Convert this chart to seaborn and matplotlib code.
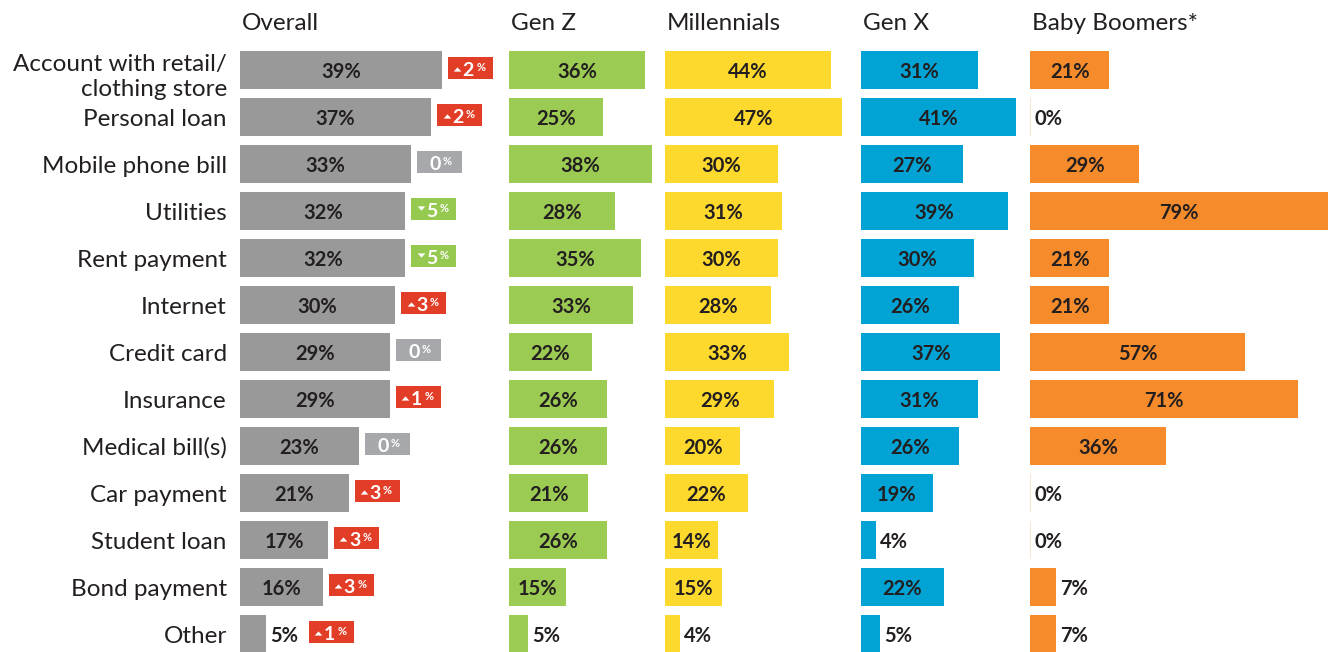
import matplotlib
matplotlib.use('Agg')
import matplotlib.pyplot as plt
from matplotlib.patches import Rectangle
import seaborn as sns
import pandas as pd

# ===========================================
# Data
# ===========================================
categories = ["Account with retail/\nclothing store", "Personal loan", "Mobile phone bill",
              "Utilities", "Rent payment", "Internet", "Credit card", "Insurance",
              "Medical bill(s)", "Car payment", "Student loan", "Bond payment", "Other"]
overall = [39, 37, 33, 32, 32, 30, 29, 29, 23, 21, 17, 16, 5]
overall_change = [2, 2, 0, -5, -5, 3, 0, 1, 0, 3, 3, 3, 1]
gen_z = [36, 25, 38, 28, 35, 33, 22, 26, 26, 21, 26, 15, 5]
millennials = [44, 47, 30, 31, 30, 28, 33, 29, 20, 22, 14, 15, 4]
gen_x = [31, 41, 27, 39, 30, 26, 37, 31, 26, 19, 4, 22, 5]
baby_boomers = [21, 0, 29, 79, 21, 21, 57, 71, 36, 0, 0, 7, 7]

panels = ["Overall", "Gen Z", "Millennials", "Gen X", "Baby Boomers*"]
colors = ["#999999", "#9BCB52", "#FDD92E", "#00A3D3", "#F68B2B"]

df = pd.DataFrame({"Category": categories, "Overall": overall, "Gen Z": gen_z,
                   "Millennials": millennials, "Gen X": gen_x, "Baby Boomers*": baby_boomers})

sns.set_theme(style="white")
plt.rcParams["font.family"] = ["Lato", "DejaVu Sans"]

W, H = 1335, 652
fig = plt.figure(figsize=(W / 100, H / 100), dpi=100)

# panel layout in pixels: left edge, width, pixels per percent
layout = [(240, 265, 5.17), (509, 150, 3.77), (665, 190, 3.77), (861, 165, 3.77), (1030, 305, 3.77)]
row_px = 47
top_px = 46.5
ax_h = H - top_px
dark = "#231F20"

axes = []
for name, color, (left, width, scale) in zip(panels, colors, layout):
    ax = fig.add_axes([left / W, 0, width / W, ax_h / H])
    sns.barplot(data=df, x=name, y="Category", color=color, saturation=1,
                width=0.79, errorbar=None, linewidth=0, ax=ax)
    ax.set_xlim(0, width / scale)
    ax.set_ylim(ax_h / row_px - 0.5, -0.5)
    ax.set_xlabel("")
    ax.set_ylabel("")
    ax.set_xticks([])
    ax.set_yticks([])
    sns.despine(ax=ax, left=True, bottom=True)

    # zero bars show as a thin light line
    for p in ax.patches:
        if p.get_width() == 0:
            p.set_edgecolor("#FBDFC4")
            p.set_linewidth(1.2)

    # value labels
    for i, v in enumerate(df[name]):
        if v >= 10:
            ax.text(v / 2, i + 0.18, f"{v}%", ha="center", va="baseline",
                    fontsize=14.5, fontweight="bold", color=dark)
        else:
            ax.annotate(f"{v}%", (v, i + 0.18), xytext=(3, 0), textcoords="offset points",
                        ha="left", va="baseline", fontsize=14.5, fontweight="bold", color=dark)

    fig.text((left + 2) / W, 1 - 30 / H, name, ha="left", va="baseline",
             fontsize=17.5, color=dark)
    axes.append(ax)

# row labels left of the first panel
ax0 = axes[0]
for i, cat in enumerate(categories):
    dy = -5 if "\n" in cat else -1.5
    ax0.annotate(cat, (0, i), xycoords=("axes fraction", "data"), xytext=(-9.5, dy),
                 textcoords="offset points", ha="right", va="center", fontsize=17.5,
                 color=dark, linespacing=1.2)

# change badges next to overall bars
scale = layout[0][2]
for i, (v, d) in enumerate(zip(overall, overall_change)):
    gap = 6 if v >= 10 else 43
    bx = v + gap / scale
    cy = i - 0.04
    if d > 0:
        bcol = "#E23E27"
    elif d < 0:
        bcol = "#96C94F"
    else:
        bcol = "#A6A8AB"
    ax0.add_patch(Rectangle((bx, cy - 11.2 / row_px), 45 / scale, 22.3 / row_px,
                            facecolor=bcol, edgecolor="none", clip_on=False))
    if d != 0:
        if d > 0:
            tri = [(-1, 0.55), (1, 0.55), (0, -0.55), (-1, 0.55)]
        else:
            tri = [(-1, -0.55), (1, -0.55), (0, 0.55), (-1, -0.55)]
        # y axis is inverted, so flip the vertex order accordingly
        tri = [(x, -y) for x, y in tri]
        ax0.plot([bx + 9.5 / scale], [cy + (0.01 if d > 0 else -0.02)], marker=tri,
                 markersize=5.5, markeredgewidth=0, color="white", linestyle="none",
                 clip_on=False)
        nx, px = bx + 15 / scale, bx + 28.5 / scale
    else:
        nx, px = bx + 12.5 / scale, bx + 26 / scale
    ax0.text(nx, cy + 0.165, f"{abs(d)}", ha="left", va="baseline", fontsize=14,
             fontweight="bold", color="white", clip_on=False)
    ax0.text(px, cy - 0.14, "%", ha="left", va="top", fontsize=8,
             fontweight="bold", color="white", clip_on=False)

fig.savefig("out.png", dpi=100)
